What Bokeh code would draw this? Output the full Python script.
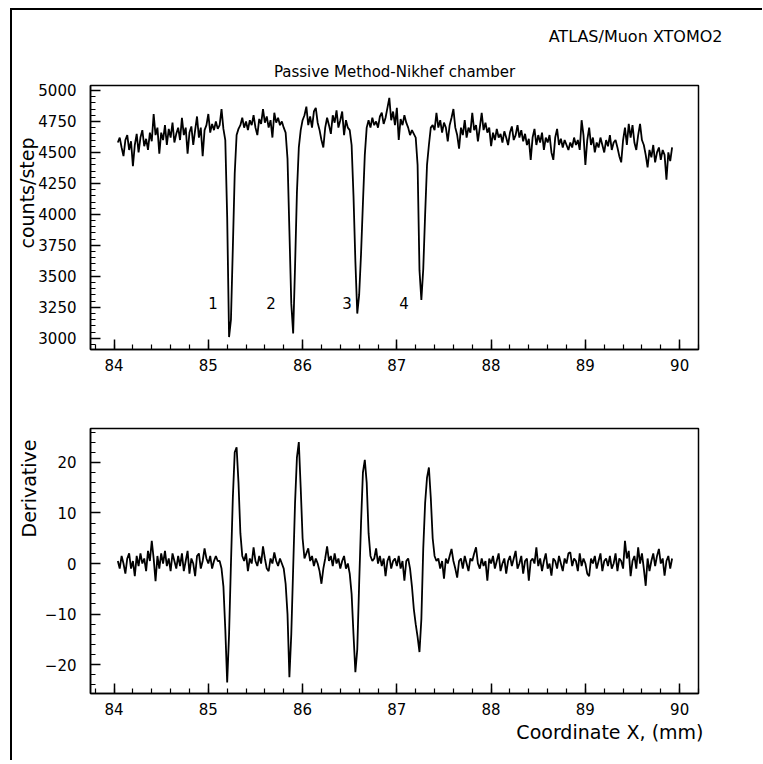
import numpy as np
from bokeh.plotting import figure
from bokeh.layouts import column
from bokeh.models import Label, SingleIntervalTicker, Range1d, Title
from bokeh.embed import file_html
from bokeh.resources import INLINE

# ---------------- data ----------------
X_START = 84.04
X_STEP = 0.02

counts = [
    4580, 4620, 4540, 4470, 4600, 4640, 4520, 4590, 4390, 4560,
    4650, 4500, 4620, 4680, 4550, 4610, 4520, 4660, 4590, 4810,
    4640, 4700, 4490, 4660, 4600, 4720, 4560, 4690, 4620, 4740,
    4580, 4650, 4700, 4600, 4780, 4640, 4700, 4490, 4660, 4710,
    4560, 4680, 4790, 4620, 4700, 4470, 4680, 4720, 4810, 4660,
    4730, 4680, 4750, 4690, 4720, 4850, 4690, 4600, 3980, 3010,
    3150, 3730, 4330, 4640, 4690, 4720, 4780, 4700, 4750, 4680,
    4760, 4720, 4800, 4700, 4640, 4770, 4730, 4850, 4740, 4790,
    4700, 4760, 4620, 4820, 4740, 4780, 4720, 4750, 4700, 4660,
    4450, 3870, 3280, 3040, 3580, 4180, 4540, 4680, 4760, 4800,
    4870, 4720, 4790, 4700, 4830, 4860, 4740, 4680, 4600, 4540,
    4700, 4780, 4720, 4650, 4800, 4740, 4840, 4700, 4760, 4830,
    4640, 4760, 4700, 4680, 4560, 4150, 3620, 3200, 3350, 3680,
    4090, 4480, 4700, 4760, 4700, 4780, 4720, 4750, 4700, 4790,
    4820, 4730, 4780, 4860, 4940, 4760, 4830, 4720, 4860, 4600,
    4770, 4720, 4800, 4740, 4700, 4640, 4680, 4650, 4620, 4400,
    3550, 3310, 3560, 4000, 4400, 4560, 4700, 4720, 4680, 4820,
    4700, 4760, 4660, 4740, 4700, 4590, 4720, 4780, 4850, 4700,
    4640, 4530, 4700, 4640, 4760, 4620, 4700, 4660, 4820, 4680,
    4720, 4590, 4700, 4820, 4680, 4740, 4660, 4700, 4550, 4660,
    4600, 4690, 4620, 4650, 4580, 4670, 4620, 4560, 4660, 4710,
    4600, 4640, 4720, 4620, 4680, 4590, 4650, 4560, 4610, 4440,
    4620, 4690, 4560, 4640, 4580, 4660, 4520, 4620, 4580, 4640,
    4500, 4440, 4620, 4690, 4560, 4610, 4540, 4600, 4560, 4520,
    4580, 4540, 4620, 4560, 4600, 4520, 4760, 4640, 4400, 4600,
    4700, 4560, 4620, 4500, 4580, 4540, 4620, 4560, 4500, 4600,
    4550, 4640, 4520, 4580, 4600, 4540, 4470, 4420, 4600, 4700,
    4560, 4730, 4620, 4720, 4580, 4520, 4640, 4730, 4600, 4560,
    4480, 4380, 4520, 4460, 4560, 4420, 4500, 4540, 4440, 4520,
    4480, 4280, 4500, 4430, 4540,
]

derivative = [
    0.5, -1.0, 1.5, 0.0, -2.0, 1.0, 2.0, -1.0, 0.5, -2.5,
    1.5, -0.5, 2.0, 0.0, 1.0, -1.5, 2.5, 0.5, 4.5, 1.0,
    -3.5, 1.5, -1.0, 2.0, 0.0, 2.5, -0.5, 1.0, -1.5, 2.0,
    0.5, -1.0, 1.5, -0.5, 2.0, -1.5, 0.5, 2.5, -2.0, 1.0,
    0.0, -2.5, 1.5, 2.0, -1.0, 0.5, 3.0, 1.0, 0.0, 1.5,
    -1.0, 0.5, 1.5, 0.5, 0.5, -1.0, -4.5, -13.0, -23.5, -14.0,
    0.0, 13.0, 22.0, 23.0, 16.0, 6.0, 1.5, 0.5, 2.0, -1.5,
    1.0, 0.0, 3.2, 0.5, -0.5, 1.5, 0.0, 3.4, 1.0, -1.0,
    -1.5, 1.0, 0.0, 2.2, 0.5, -0.5, 1.0, 0.0, -1.0, -4.0,
    -10.0, -22.5, -14.0, -1.0, 12.0, 21.0, 24.0, 15.0, 5.0, 1.0,
    2.0, 3.0, 0.5, 1.5, -0.5, 1.0, 0.0, -1.5, -4.0, -1.0,
    1.0, 3.4, 0.5, 1.5, -0.5, 2.0, 0.0, 1.0, -1.0, 0.5,
    1.5, -1.0, 0.0, -2.0, -6.0, -14.0, -21.5, -17.0, -4.0, 8.0,
    18.0, 20.5, 16.0, 6.0, 1.5, 0.5, 1.0, 3.0, 0.0, 1.5,
    -0.5, 1.0, -2.5, 0.5, 1.5, -1.0, 0.5, 1.0, -0.5, 1.5,
    -1.0, 0.5, -3.4, 0.5, 1.0, -1.0, -4.5, -9.0, -12.0, -14.5,
    -17.5, -11.0, 3.0, 12.0, 17.0, 19.0, 13.0, 5.0, 1.5, 0.5,
    1.0, -1.0, 0.5, -3.0, 1.0, 0.0, 1.5, 2.9, 0.5, -1.0,
    -2.8, 0.5, 1.0, -1.0, 1.5, 0.0, -1.5, 1.0, 0.5, 2.0,
    3.2, 0.0, -1.0, 1.0, -0.5, 0.5, -3.4, 1.0, 0.0, 1.5,
    -1.0, 0.5, 2.0, -1.5, 0.0, 1.0, -2.0, 0.5, 1.5, -0.5,
    1.0, 2.5, -1.0, 0.0, 1.5, -2.0, 0.5, 1.0, -3.4, 0.5,
    1.0, 0.0, 3.2, -0.5, 1.0, -1.5, 0.5, 2.0, -1.0, 0.0,
    -2.4, 1.0, 0.5, -1.0, 1.5, 0.0, -1.5, 1.0, 0.0, 2.0,
    2.2, -0.5, 1.0, 0.5, -1.5, 2.0, -0.5, 1.0, 0.0, -2.0,
    -2.5, 1.0, 0.0, 1.5, -1.0, 0.5, 2.0, -1.5, 0.5, 1.0,
    -0.5, 1.5, -1.0, 0.0, 2.0, -1.5, 1.0, 0.5, -1.0, 4.5,
    1.0, 2.5, -2.5, 0.5, 1.5, -1.0, 3.2, 0.0, 2.0, -1.0,
    -4.4, 1.0, -1.5, 0.5, 2.0, -0.5, 1.5, 2.9, 0.0, 1.0,
    -2.4, 0.5, 1.5, -1.0, 1.0,
]

x = [round(X_START + X_STEP * i, 2) for i in range(len(counts))]

peak_labels = ["1", "2", "3", "4"]
peak_label_x = [85.05, 85.665, 86.47, 87.075]
peak_label_y = [3285, 3285, 3285, 3285]

FONT = "DejaVu Sans"


def style(p, y_interval):
    p.xgrid.visible = False
    p.ygrid.visible = False
    p.outline_line_color = "black"
    p.outline_line_width = 1.5
    p.background_fill_color = "white"
    p.border_fill_color = "white"
    p.xaxis.ticker = SingleIntervalTicker(interval=1, num_minor_ticks=5)
    p.yaxis.ticker = SingleIntervalTicker(interval=y_interval, num_minor_ticks=5)
    for ax in (p.xaxis[0], p.yaxis[0]):
        ax.axis_line_color = "black"
        ax.axis_line_width = 1.5
        ax.major_tick_in = 10
        ax.major_tick_out = 0
        ax.minor_tick_in = 5
        ax.minor_tick_out = 0
        ax.major_tick_line_width = 1.5
        ax.minor_tick_line_width = 1.2
        ax.major_tick_line_color = "black"
        ax.minor_tick_line_color = "black"
        ax.major_label_text_font = FONT
        ax.major_label_text_font_size = "15px"
        ax.major_label_text_color = "black"
    p.xaxis.major_label_standoff = 9
    p.yaxis.major_label_standoff = 14


def title(text, size, align, offset, standoff):
    return Title(text=text, text_font=FONT, text_font_size=size, text_font_style="normal",
                 text_color="black", align=align, offset=offset, standoff=standoff)


# ---------------- top panel ----------------
p1 = figure(frame_width=608, frame_height=264, min_border_left=78, min_border_right=52,
            min_border_top=75, min_border_bottom=51,
            x_range=Range1d(83.75, 90.2), y_range=Range1d(2910, 5040),
            output_backend="svg", toolbar_location=None)
style(p1, 250)
p1.title = title("ATLAS/Muon XTOMO2", "16px", "right", -24, 22)
p1.add_layout(title("Passive Method-Nikhef chamber", "15px", "center", 0, 9), "above")
p1.add_layout(title("counts/step", "19px", "right", 52, -5), "left")
p1.line(x, counts, line_color="black", line_width=1.8)

for t, lx, ly in zip(peak_labels, peak_label_x, peak_label_y):
    p1.add_layout(Label(x=lx, y=ly, text=t, text_font=FONT, text_font_size="15px",
                        text_align="center", text_baseline="middle", text_color="black"))

# ---------------- bottom panel ----------------
p2 = figure(frame_width=608, frame_height=265, min_border_left=78, min_border_right=52,
            min_border_top=28, min_border_bottom=53,
            x_range=Range1d(83.75, 90.2), y_range=Range1d(-25.7, 26.7),
            output_backend="svg", toolbar_location=None)
style(p2, 10)
p2.add_layout(title("Derivative", "19px", "right", 11, 3), "left")
p2.add_layout(title("Coordinate X, (mm)", "19px", "right", -5, 2), "below")
p2.line(x, derivative, line_color="black", line_width=1.8)

layout = column(p1, p2, spacing=0,
                styles={"border-left": "2px solid black", "border-top": "2px solid black",
                        "margin-left": "10px", "margin-top": "8px",
                        "padding-right": "12px", "padding-bottom": "14px"})

open("out.html", "w").write(file_html(layout, INLINE))
